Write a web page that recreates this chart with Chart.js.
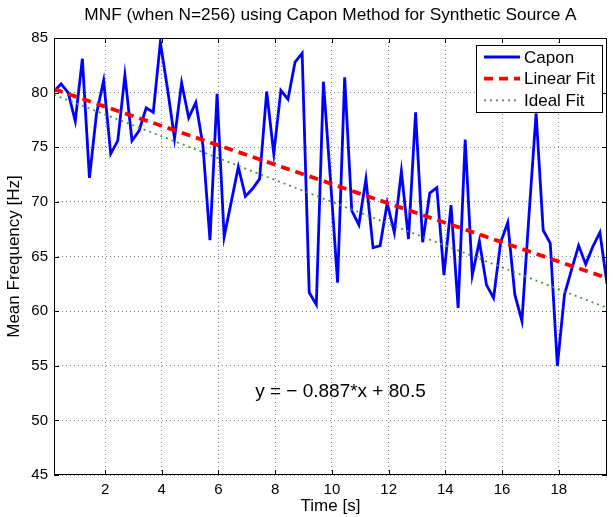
<!DOCTYPE html>
<html>
<head>
<meta charset="utf-8">
<script src="https://cdn.jsdelivr.net/npm/chart.js@4.4.0/dist/chart.umd.min.js"></script>
<style>
  html, body { margin: 0; padding: 0; background: #fff; }
  #wrap { width: 613px; height: 517px; }
</style>
</head>
<body>
<div id="wrap"><canvas id="chart" width="613" height="517"></canvas></div>
<script>
// time axis [s] and Capon mean frequency [Hz]
const times = [0.2, 0.45, 0.7, 0.95, 1.2, 1.45, 1.7, 1.95, 2.2, 2.45, 2.7, 2.95, 3.2, 3.45, 3.7, 3.95,
    4.2, 4.45, 4.7, 4.95, 5.2, 5.45, 5.7, 5.95, 6.2, 6.45, 6.7, 6.95, 7.2, 7.45, 7.7, 7.95,
    8.2, 8.45, 8.7, 8.95, 9.2, 9.45, 9.7, 9.95, 10.2, 10.45, 10.7, 10.95, 11.2, 11.45, 11.7, 11.95,
    12.2, 12.45, 12.7, 12.95, 13.2, 13.45, 13.7, 13.95, 14.2, 14.45, 14.7, 14.95, 15.2, 15.45, 15.7, 15.95,
    16.2, 16.45, 16.7, 16.95, 17.2, 17.45, 17.7, 17.95, 18.2, 18.45, 18.7, 18.95, 19.2, 19.45, 19.7]
const capon = [80.1, 80.8, 80.0, 77.4, 83.1, 72.2, 78.1, 81.1, 74.4, 75.6, 81.6, 75.6, 76.5, 78.6, 78.2, 84.6,
    80.4, 75.8, 80.9, 77.7, 79.1, 75.2, 66.5, 79.9, 66.8, 70.0, 73.2, 70.5, 71.2, 72.1, 80.1, 74.4,
    80.2, 79.4, 82.8, 83.6, 61.7, 60.6, 81.0, 72.0, 62.6, 81.4, 69.2, 67.9, 72.1, 65.8, 66.0, 69.9,
    67.2, 72.8, 66.6, 78.2, 66.3, 70.8, 71.3, 63.3, 69.7, 60.3, 75.7, 63.3, 66.4, 62.4, 61.2, 66.3,
    68.1, 61.5, 59.1, 68.8, 78.1, 67.4, 66.2, 55.0, 61.5, 63.8, 66.0, 64.3, 65.9, 67.2, 62.5]

// fit lines (end points)
const linearFitX = [0.2, 19.7]
const linearFitY = [80.32, 63.03]
const idealFitX = [0.2, 19.7]
const idealFitY = [79.8, 60.3]

const xTicks = [2, 4, 6, 8, 10, 12, 14, 16, 18]
const yTicks = [45, 50, 55, 60, 65, 70, 75, 80, 85]

const titleText = 'MNF (when N=256) using Capon Method for Synthetic Source A'
const fitText = 'y = \u2212 0.887*x + 80.5'
const fitTextPos = {x: 10.3, y: 52.6}

const FONT = '"Liberation Sans", Arial, Helvetica, sans-serif'

function toPoints(xs, ys) {
    let pts = []
    for (let i = 0; i < xs.length; i++)
        pts.push({x: xs[i], y: ys[i]})
    return pts
}

const matlabFrame = {
    id: 'matlabFrame',
    afterDatasetsDraw(chart) {
        const ctx = chart.ctx
        const a = chart.chartArea
        const xs = chart.scales.x
        const ys = chart.scales.y
        ctx.save()

        // fit equation
        ctx.fillStyle = '#000'
        ctx.font = '19px ' + FONT
        ctx.textAlign = 'center'
        ctx.textBaseline = 'middle'
        ctx.fillText(fitText, xs.getPixelForValue(fitTextPos.x), ys.getPixelForValue(fitTextPos.y))

        // box + inward ticks
        ctx.strokeStyle = '#000'
        ctx.lineWidth = 1
        ctx.setLineDash([])
        ctx.strokeRect(a.left + 0.5, a.top + 0.5, a.right - a.left - 1, a.bottom - a.top - 1)
        ctx.beginPath()
        for (const t of xTicks) {
            const px = Math.round(xs.getPixelForValue(t)) + 0.5
            ctx.moveTo(px, a.bottom); ctx.lineTo(px, a.bottom - 5)
            ctx.moveTo(px, a.top); ctx.lineTo(px, a.top + 5)
        }
        for (const t of yTicks) {
            const py = Math.round(ys.getPixelForValue(t)) + 0.5
            ctx.moveTo(a.left, py); ctx.lineTo(a.left + 5, py)
            ctx.moveTo(a.right, py); ctx.lineTo(a.right - 5, py)
        }
        ctx.stroke()

        // legend
        const lx = 476, ly = 45, lw = 126, lh = 67
        ctx.fillStyle = '#fff'
        ctx.fillRect(lx, ly, lw, lh)
        ctx.strokeRect(lx + 0.5, ly + 0.5, lw, lh)
        ctx.textAlign = 'left'
        ctx.font = '17px ' + FONT
        chart.data.datasets.forEach((ds, i) => {
            const cy = 57 + i * 21.7
            ctx.save()
            ctx.strokeStyle = ds.borderColor
            ctx.lineWidth = ds.borderWidth
            ctx.setLineDash(ds.borderDash || [])
            ctx.beginPath()
            ctx.moveTo(484, cy); ctx.lineTo(520, cy)
            ctx.stroke()
            ctx.restore()
            ctx.fillStyle = '#000'
            ctx.fillText(ds.label, 524, cy + 1)
        })

        // title
        ctx.textAlign = 'center'
        ctx.font = '17.3px ' + FONT
        ctx.fillText(titleText, (a.left + a.right) / 2, 15)
        ctx.restore()
    }
}

const data = {
    datasets: [{
        label: 'Capon',
        data: toPoints(times, capon),
        borderColor: '#0000ff',
        borderWidth: 2.8,
        order: 3
    }, {
        label: 'Linear Fit',
        data: toPoints(linearFitX, linearFitY),
        borderColor: '#ff0000',
        borderWidth: 3.8,
        borderDash: [9, 6],
        order: 2
    }, {
        label: 'Ideal Fit',
        data: toPoints(idealFitX, idealFitY),
        borderColor: 'rgb(70,150,70)',
        borderWidth: 1.8,
        borderDash: [2, 4],
        order: 1
    }]
}

const config = {
    type: 'scatter',
    data: data,
    options: {
        responsive: false,
        animation: false,
        showLine: true,
        elements: {point: {radius: 0}, line: {tension: 0}},
        layout: {padding: {top: 38, right: 6, left: 0, bottom: 0}},
        plugins: {legend: {display: false}, tooltip: {enabled: false}, title: {display: false}},
        scales: {
            x: {
                type: 'linear',
                min: 0.2,
                max: 19.7,
                afterBuildTicks: s => { s.ticks = xTicks.map(v => ({value: v})) },
                afterFit: s => { s.height = 42 },
                ticks: {color: '#000', font: {family: FONT, size: 15}, padding: 6, maxRotation: 0},
                grid: {color: 'rgba(0,0,0,0.5)', lineWidth: 1, drawTicks: false},
                border: {display: false, dash: [1, 3]},
                title: {display: true, text: 'Time [s]', color: '#000', font: {family: FONT, size: 17}, padding: {top: 0, bottom: 0}}
            },
            y: {
                min: 45,
                max: 85,
                afterBuildTicks: s => { s.ticks = yTicks.map(v => ({value: v})) },
                afterFit: s => { s.width = 54 },
                ticks: {color: '#000', font: {family: FONT, size: 15}, padding: 6},
                grid: {color: 'rgba(0,0,0,0.5)', lineWidth: 1, drawTicks: false},
                border: {display: false, dash: [1, 3]},
                title: {display: true, text: 'Mean Frequency [Hz]', color: '#000', font: {family: FONT, size: 17}, padding: {top: 4, bottom: 0}}
            }
        }
    },
    plugins: [matlabFrame]
}

let ctx = document.getElementById('chart').getContext('2d')
new Chart(ctx, config)
</script>
</body>
</html>
